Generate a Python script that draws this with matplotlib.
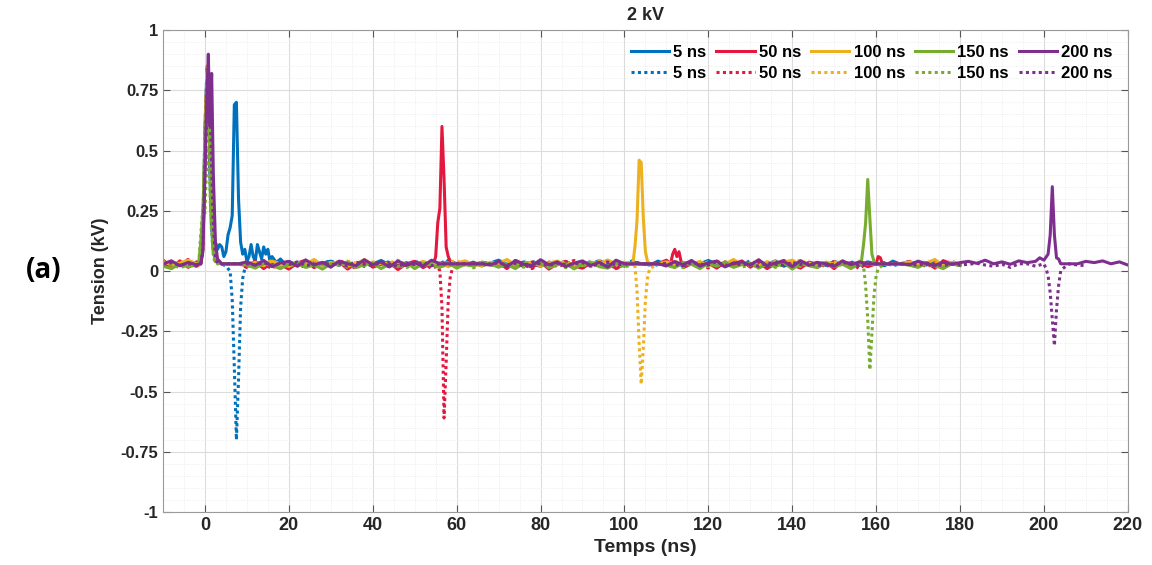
import matplotlib
matplotlib.use('Agg')
import matplotlib.pyplot as plt
from matplotlib.ticker import MultipleLocator
import numpy as np

# baseline samples (V), every 2 ns starting at -10 ns
base = {
    's5': [30,35,22,40,28,30,30,30,30,30, 30,30,30,30,30,30,25,38,20,33,
           41,27,30,18,36,29,44,25,31,22, 39,28,35,20,42,30,26,37,21,33,
           45,28,24,38,30,19,35,27,40,23, 32,29,43,26,34,20,38,31,25,41,
           28,33,22,36,30,44,27,21,39,32, 25,35,28,42,20,31,37,26,33,23,
           40,29,35,24,38,30,22,41,27,34, 30,25,36,29,33,28],
    's50': [35,12,42,15,38,28,30,30,30,30, 22,40,10,35,27,8,33,45,14,30,
            25,38,8,32,42,16,28,36,6,30, 40,14,33,30,30,30,30,30,30,26,
            35,10,44,29,15,37,8,31,40,20, 12,34,28,42,10,30,36,30,30,30,
            45,40,14,30,25,33,12,38,27,42, 16,36,10,31,44,26,12,37,29,35,
            10,41,25,33,18,30,30,30,30,40, 20,35,12,43,30,26],
    's100': [40,25,33,45,30,30,30,30,30,30, 28,36,22,41,30,19,35,27,48,24,
             32,38,20,29,48,26,34,21,37,30, 25,40,28,35,18,33,42,27,22,36,
             31,48,24,29,38,20,34,41,26,32, 23,37,30,46,28,35,30,30,30,30,
             38,24,33,27,40,21,35,29,48,26, 31,22,39,28,36,45,25,33,20,37,
             29,41,24,35,30,30,30,30,30,38, 27,33,48,22,36,30],
    's150': [20,10,28,18,25,30,30,30,30,30, 25,12,32,22,10,28,35,15,26,8,
             30,24,38,14,27,33,10,29,18,36, 10,31,25,15,34,12,28,20,37,30,
             16,27,10,33,24,39,14,26,30,9, 29,35,18,12,31,22,30,30,30,30,
             24,14,36,28,10,32,20,38,15,27, 33,12,29,18,35,8,30,22,14,34,
             18,28,10,31,25,30,30,30,30,24, 15,33,22,10,30,22],
    's200': [30,42,22,36,26,30,30,30,30,30, 38,24,44,18,34,40,20,46,25,36,
             16,41,30,22,47,26,38,17,42,24, 35,20,45,30,30,30,30,30,30,25,
             40,19,43,28,22,47,26,38,18,33, 42,23,36,16,45,30,30,30,30,30,
             22,39,26,44,20,35,41,17,33,38, 24,47,21,34,40,18,43,24,36,30,
             20,42,26,38,30,30,30,30,30,26, 41,30,23,37,28,35,40,32,45,30,
             38,28,42,35,30,50,30,30,30,30, 40,35,42,30,38,25],
    'd5': [25,32,20,38,27,30,30,30,30,30, 33,28,40,24,35,22,30,37,26,31,
           42,23,29,36,19,34,27,40,25,32, 28,37,21,33,44,26,30,23,38,29,
           35,20,31,27,41,24,33,28,36,22, 30,39,25,34,21,30,43,27,32,24,
           37,29,26,40,23,35,30,20,33,28, 42,25,31,36,22,29,38,27,34,21,
           30,26,39,24,33,28,35,22,31,40, 27,34,23,37,29,32],
    'd50': [45,22,30,48,20,30,30,30,30,30, 14,35,28,10,40,25,33,12,37,29,
            18,43,30,10,35,27,39,15,32,26, 41,28,12,34,30,30,30,30,30,36,
            16,30,42,25,10,33,38,18,29,44, 14,31,27,36,8,33,30,30,30,30,
            25,39,16,30,35,12,41,28,18,34, 30,14,37,26,43,12,32,28,36,16,
            40,27,31,10,35,30,30,30,30,26, 38,17,32,28,41,25],
    'd100': [30,42,28,35,22,30,30,30,30,30, 38,26,31,44,23,35,28,40,30,25,
             36,27,41,32,24,38,29,34,45,26, 31,22,39,28,35,43,25,30,37,27,
             33,40,24,36,29,42,26,31,38,23, 35,28,44,30,25,37,30,30,30,30,
             30,41,27,34,22,39,31,26,43,29, 24,36,30,40,27,33,45,28,32,25,
             38,30,26,41,29,30,30,30,30,35, 28,40,31,25,37,30],
    'd150': [18,26,14,24,20,30,30,30,30,30, 22,16,30,25,12,28,20,33,17,26,
             21,35,15,27,23,30,18,32,24,14, 29,20,34,17,26,22,31,13,28,25,
             19,33,23,16,30,27,21,35,14,26, 24,18,31,22,28,15,30,30,30,30,
             20,27,14,32,23,18,29,25,34,16, 26,21,30,15,28,24,19,33,22,27,
             17,29,23,31,20,30,30,30,30,25, 18,28,22,16,30,24],
    'd200': [28,35,24,31,22,30,30,30,30,30, 30,25,36,20,33,27,38,23,29,34,
             26,31,21,37,28,24,35,30,19,33, 27,36,22,30,30,30,30,30,30,29,
             34,25,31,20,37,28,23,33,26,30, 35,21,29,38,24,30,30,30,30,30,
             32,27,22,35,29,25,39,23,31,26, 30,20,34,28,24,36,27,33,22,29,
             26,35,30,23,31,30,30,30,30,28, 24,33,27,22,30,25,28,32,25,20,
             28,15,30,30,20,30,30,30,30,25, 22],
}

# pulse segments: (time ns, value V)
pulses = {
    's5': [([-1,-0.5,0,0.5,1,1.5,2,2.5,3,3.5,4,4.5,5,5.5,6,6.5,7,7.5,8,8.5,9,9.5,10,10.5,11,11.5,12,12.5,13,13.5,14,14.5,15,15.5,16,17,18,19,20],
            [40,150,600,850,700,350,150,120,90,110,100,60,80,150,180,230,690,700,300,120,70,90,40,60,110,60,40,110,80,50,100,70,90,40,60,35,50,30,40])],
    'd5': [([-1,-0.5,0,0.5,1,1.5,2,3,4,5,6,6.5,7,7.5,8,8.5,9,9.5,10],
            [30,120,550,830,500,200,80,40,30,20,0,-120,-400,-700,-450,-150,-30,10,20])],
    's50': [([-1,-0.5,0,0.5,1,1.5,2,2.5,3], [30,100,500,840,650,300,100,50,40]),
            ([54.5,55,55.5,56,56.5,57,57.5,58,58.5], [30,60,200,260,600,380,100,60,40]),
            ([111,111.5,112,112.5,113,113.5], [30,70,90,60,80,40]),
            ([160,160.5,161,161.5], [30,60,55,30])],
    'd50': [([-1,-0.5,0,0.5,1,1.5,2,2.5], [30,90,450,800,600,250,80,40]),
            ([55.5,56,56.5,57,57.5,58,58.5,59], [20,0,-150,-610,-380,-120,-20,10])],
    's100': [([-1,-0.5,0,0.5,1,1.5,2,2.5], [35,110,520,820,700,350,120,50]),
             ([102,102.5,103,103.5,104,104.5,105,105.5], [30,100,210,460,450,220,80,40])],
    'd100': [([-1,-0.5,0,0.5,1,1.5,2,2.5], [30,130,600,850,640,280,90,40]),
             ([102.5,103,103.5,104,104.5,105,105.5,106], [20,-80,-300,-470,-320,-120,-30,10])],
    's150': [([-1.5,-1,-0.5,0,0.5,1,1.5,2,2.5], [30,120,250,520,780,620,260,80,40]),
             ([156.5,157,157.5,158,158.5,159,159.5], [40,110,200,380,220,70,40])],
    'd150': [([-1.5,-1,-0.5,0,0.5,1,1.5,2,2.5], [30,150,260,240,500,420,180,60,30]),
             ([157,157.5,158,158.5,159,159.5,160,160.5], [20,-60,-200,-410,-260,-100,-20,10])],
    's200': [([-1,-0.5,0,0.5,0.8,1.2,1.6,2,2.5,3], [30,80,400,750,900,600,820,400,120,50]),
             ([198,199,200,201,201.5,202,202.5,203,203.5], [40,55,45,70,150,350,150,55,50])],
    'd200': [([-1,-0.5,0,0.5,1,1.5,2,2.5,3], [30,90,450,780,820,500,180,60,30]),
             ([200.5,201,201.5,202,202.5,203,203.5,204,204.5], [10,-20,-90,-200,-310,-160,-60,0,10])],
}

delays = ['5', '50', '100', '150', '200']
colors = ['#0072BD', '#E4173F', '#EDB120', '#77AC30', '#7E2F8E']


def trace(key):
    v = np.array(base[key], dtype=float)
    t = -10 + 2 * np.arange(len(v))
    keep = np.ones(len(t), bool)
    for ts, vs in pulses[key]:
        keep &= ~((t >= min(ts)) & (t <= max(ts)))
    tt = np.concatenate([t[keep]] + [np.array(ts, float) for ts, vs in pulses[key]])
    vv = np.concatenate([v[keep]] + [np.array(vs, float) for ts, vs in pulses[key]])
    order = np.argsort(tt)
    return tt[order], vv[order] / 1000.0


plt.rcParams['font.family'] = ['Liberation Sans', 'DejaVu Sans']
fig = plt.figure(figsize=(11.52, 5.65), dpi=100)
ax = fig.add_axes([0.1415, 0.0938, 0.8375, 0.853])

handles = []
for d, c in zip(delays, colors):
    t, v = trace('s' + d)
    hs, = ax.plot(t, v, color=c, lw=2.2, label=d + ' ns')
    t, v = trace('d' + d)
    hd, = ax.plot(t, v, color=c, lw=2.2, ls=(0, (1, 1.1)), label=d + ' ns')
    handles += [hs, hd]

ax.set_xlim(-10, 220)
ax.set_ylim(-1, 1)
ax.xaxis.set_major_locator(MultipleLocator(20))
ax.xaxis.set_minor_locator(MultipleLocator(5))
ax.yaxis.set_minor_locator(MultipleLocator(0.05))
ax.set_yticks([-1, -0.75, -0.5, -0.25, 0, 0.25, 0.5, 0.75, 1])
ax.set_yticklabels(['-1', '-0.75', '-0.5', '-0.25', '0', '0.25', '0.5', '0.75', '1'])
ax.grid(which='major', color='#dcdcdc', lw=0.8)
ax.grid(which='minor', color='#e8e8e8', lw=0.6, ls=':')
ax.set_axisbelow(True)
ax.tick_params(which='both', direction='in', top=True, right=True, color='#555555')
ax.tick_params(which='major', length=5)
ax.tick_params(which='minor', length=0)
for s in ax.spines.values():
    s.set_color('#9a9a9a')
for lab in ax.get_yticklabels():
    lab.set_fontweight('bold')
    lab.set_fontsize(12)
    lab.set_color('#262626')
for lab in ax.get_xticklabels():
    lab.set_fontweight('bold')
    lab.set_fontsize(13)
    lab.set_color('#262626')

ax.set_xlabel('Temps (ns)', fontsize=14, fontweight='bold', color='#262626', labelpad=4)
ax.set_ylabel('Tension (kV)', fontsize=13, fontweight='bold', color='#262626', labelpad=8)
ax.set_title('2 kV', fontsize=13, fontweight='bold', color='#262626', pad=7)

leg = ax.legend(handles=handles, ncol=5, loc='upper right',
                prop={'weight': 'bold', 'size': 12}, handlelength=2.3,
                handletextpad=0.25, columnspacing=0.6,
                labelspacing=0.35, frameon=False)

fig.text(0.038, 0.522, '(a)', fontsize=20, fontweight='bold', family=['Open Sans', 'DejaVu Sans'],
         ha='center', va='center')

fig.savefig('out.png', dpi=100)
